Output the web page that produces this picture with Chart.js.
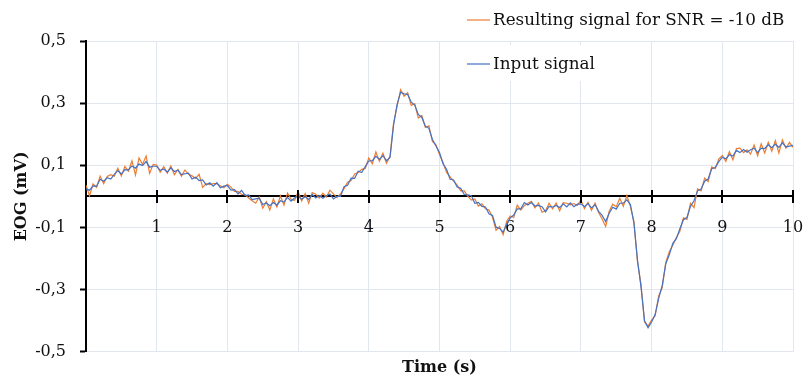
<!DOCTYPE html>
<html>
<head>
<meta charset="utf-8">
<script src="https://cdn.jsdelivr.net/npm/chart.js@4.4.1/dist/chart.umd.min.js"></script>
<style>
  html, body { margin: 0; padding: 0; background: #fff; }
  #wrap { width: 806px; height: 379px; }
</style>
</head>
<body>
<div id="wrap"><canvas id="eogChart" width="806" height="379"></canvas></div>
<script>
// time between two samples of the traces (s)
const sampleStep = 0.05;

// input EOG signal (mV), one value per sample, 0 - 10 s
const inputSignal = [
  0.024, 0.020, 0.034, 0.033, 0.055, 0.049, 0.060, 0.056, 0.071, 0.083,
  0.072, 0.086, 0.085, 0.098, 0.091, 0.104, 0.099, 0.112, 0.094, 0.097,
  0.097, 0.084, 0.088, 0.078, 0.092, 0.080, 0.084, 0.070, 0.073, 0.075,
  0.056, 0.062, 0.051, 0.053, 0.037, 0.044, 0.033, 0.044, 0.028, 0.033,
  0.035, 0.020, 0.022, 0.008, 0.019, 0.003, 0.005, -0.010, -0.008, -0.006,
  -0.026, -0.021, -0.030, -0.020, -0.028, -0.014, -0.018, -0.003, -0.015, -0.005,
  0.001, -0.009, -0.001, -0.010, 0.006, -0.005, 0.003, -0.006, 0.002, 0.008,
  -0.008, 0.000, 0.000, 0.031, 0.036, 0.059, 0.058, 0.081, 0.077, 0.096,
  0.114, 0.115, 0.129, 0.119, 0.131, 0.115, 0.125, 0.229, 0.296, 0.335,
  0.330, 0.328, 0.303, 0.294, 0.264, 0.254, 0.226, 0.219, 0.183, 0.162,
  0.141, 0.105, 0.087, 0.055, 0.053, 0.030, 0.026, 0.006, 0.005, 0.002,
  -0.022, -0.019, -0.032, -0.034, -0.056, -0.061, -0.099, -0.103, -0.115, -0.090,
  -0.069, -0.060, -0.040, -0.040, -0.020, -0.028, -0.020, -0.031, -0.029, -0.033,
  -0.050, -0.032, -0.034, -0.029, -0.036, -0.024, -0.034, -0.021, -0.033, -0.025,
  -0.024, -0.033, -0.023, -0.037, -0.027, -0.048, -0.061, -0.081, -0.054, -0.035,
  -0.041, -0.022, -0.022, -0.011, -0.026, -0.086, -0.204, -0.291, -0.400, -0.423,
  -0.404, -0.380, -0.328, -0.287, -0.217, -0.188, -0.151, -0.136, -0.104, -0.075,
  -0.068, -0.032, -0.014, 0.018, 0.024, 0.049, 0.056, 0.089, 0.093, 0.112,
  0.126, 0.121, 0.134, 0.130, 0.148, 0.141, 0.151, 0.142, 0.150, 0.155,
  0.141, 0.155, 0.154, 0.166, 0.157, 0.168, 0.158, 0.172, 0.159, 0.162,
  0.164
];

// the same signal after adding noise, SNR = -10 dB (mV)
const noisySignal = [
  0.036, 0.002, 0.040, 0.029, 0.065, 0.041, 0.064, 0.070, 0.065, 0.091,
  0.066, 0.096, 0.081, 0.114, 0.069, 0.124, 0.103, 0.130, 0.074, 0.103,
  0.101, 0.078, 0.096, 0.075, 0.098, 0.070, 0.087, 0.065, 0.085, 0.071,
  0.066, 0.058, 0.071, 0.029, 0.041, 0.038, 0.041, 0.041, 0.034, 0.028,
  0.039, 0.030, 0.016, 0.016, 0.007, 0.005, -0.005, -0.014, -0.022, -0.002,
  -0.038, -0.017, -0.044, -0.008, -0.034, 0.002, -0.028, 0.011, -0.009, -0.013,
  0.015, -0.015, 0.009, -0.022, 0.012, 0.007, -0.005, 0.010, -0.002, 0.020,
  0.008, -0.004, 0.008, 0.025, 0.046, 0.051, 0.072, 0.077, 0.087, 0.090,
  0.124, 0.105, 0.143, 0.113, 0.139, 0.107, 0.129, 0.235, 0.290, 0.343,
  0.322, 0.334, 0.293, 0.298, 0.252, 0.260, 0.222, 0.227, 0.177, 0.166,
  0.135, 0.109, 0.077, 0.063, 0.049, 0.036, 0.018, 0.018, 0.001, -0.012,
  -0.008, -0.031, -0.024, -0.040, -0.044, -0.067, -0.109, -0.097, -0.123, -0.080,
  -0.063, -0.068, -0.028, -0.044, -0.030, -0.022, -0.016, -0.037, -0.021, -0.051,
  -0.046, -0.022, -0.040, -0.021, -0.046, -0.020, -0.022, -0.027, -0.023, -0.029,
  -0.012, -0.039, -0.019, -0.045, -0.021, -0.052, -0.073, -0.097, -0.048, -0.025,
  -0.033, -0.006, -0.032, 0.003, -0.032, -0.080, -0.210, -0.283, -0.404, -0.417,
  -0.398, -0.384, -0.320, -0.293, -0.213, -0.178, -0.157, -0.132, -0.112, -0.069,
  -0.074, -0.022, -0.036, 0.024, 0.018, 0.059, 0.048, 0.095, 0.089, 0.120,
  0.132, 0.113, 0.144, 0.118, 0.154, 0.155, 0.141, 0.150, 0.136, 0.165,
  0.131, 0.169, 0.140, 0.174, 0.145, 0.180, 0.140, 0.182, 0.155, 0.174,
  0.158
];

const timeTicks = [0, 1, 2, 3, 4, 5, 6, 7, 8, 9, 10];
const eogTicks = [-0.5, -0.3, -0.1, 0.1, 0.3, 0.5];
const seriesNames = ['Resulting signal for SNR = -10 dB', 'Input signal'];

const fontFamily = "'DejaVu Serif', 'Liberation Serif', serif";
const gridColor = '#e2e6ee';

function toPoints(values) {
  return values.map((v, i) => ({ x: +(i * sampleStep).toFixed(2), y: v }));
}

// tick marks crossing the zero axis + the legend (Excel style, top right)
const eogDecor = {
  id: 'eogDecor',
  afterDatasetsDraw(chart) {
    const { ctx, scales } = chart;
    const y0 = scales.y.getPixelForValue(0);
    ctx.save();
    ctx.strokeStyle = '#000';
    ctx.lineWidth = 2;
    ctx.beginPath();
    timeTicks.forEach(t => {
      if (t === 0) return;
      const px = Math.round(scales.x.getPixelForValue(t));
      ctx.moveTo(px, y0 - 6.5);
      ctx.lineTo(px, y0 + 6.5);
    });
    ctx.stroke();
    ctx.restore();
  },
  afterDraw(chart) {
    const ctx = chart.ctx;
    const rows = [20, 64];
    ctx.save();
    ctx.fillStyle = '#fff';
    ctx.fillRect(462, 45, 163, 36);
    ctx.font = '16.8px ' + fontFamily;
    ctx.textBaseline = 'middle';
    chart.data.datasets.forEach((ds, i) => {
      const y = rows[i];
      ctx.strokeStyle = ds.borderColor;
      ctx.lineWidth = 1.2;
      ctx.beginPath();
      ctx.moveTo(467, y);
      ctx.lineTo(490, y);
      ctx.stroke();
      ctx.fillStyle = '#111';
      ctx.fillText(ds.label, 493, y + 1);
    });
    ctx.restore();
  }
};

new Chart(document.getElementById('eogChart'), {
  type: 'line',
  data: {
    datasets: [{
      label: seriesNames[0],
      data: toPoints(noisySignal),
      borderColor: '#ED7D31',
      borderWidth: 1.2,
      pointRadius: 0,
      order: 2
    }, {
      label: seriesNames[1],
      data: toPoints(inputSignal),
      borderColor: '#4472C4',
      borderWidth: 1.2,
      pointRadius: 0,
      order: 1
    }]
  },
  options: {
    responsive: false,
    animation: false,
    layout: { padding: { top: 41, right: 13, bottom: 0, left: 0 } },
    scales: {
      x: {
        type: 'linear',
        min: 0,
        max: 10,
        position: { y: 0 },
        afterBuildTicks: s => { s.ticks = timeTicks.map(v => ({ value: v })); },
        afterFit: s => { s.paddingLeft = 0; s.paddingRight = 0; },
        grid: { color: gridColor, drawTicks: false },
        border: { display: true, color: '#000', width: 2 },
        ticks: {
          callback: v => (v === 0 ? '' : v),
          font: { family: fontFamily, size: 16 },
          color: '#111',
          padding: 22,
          maxRotation: 0,
          autoSkip: false
        }
      },
      y: {
        min: -0.5,
        max: 0.5,
        afterBuildTicks: s => { s.ticks = eogTicks.map(v => ({ value: v })); },
        afterFit: s => { s.width = 86; },
        grid: { color: gridColor, tickLength: 6, tickColor: '#000', tickWidth: 2 },
        border: { display: true, color: '#000', width: 2 },
        ticks: {
          callback: v => v.toFixed(1).replace('.', ','),
          font: { family: fontFamily, size: 16 },
          color: '#111',
          padding: 14
        },
        title: {
          display: true,
          text: 'EOG (mV)',
          font: { family: fontFamily, size: 16, weight: 'bold' },
          color: '#111',
          padding: { top: 12, bottom: 0 }
        }
      }
    },
    plugins: {
      legend: { display: false },
      tooltip: { enabled: false },
      title: {
        display: true,
        position: 'bottom',
        fullSize: false,
        text: 'Time (s)',
        font: { family: fontFamily, size: 16, weight: 'bold' },
        color: '#111',
        padding: { top: 6, bottom: 2 }
      }
    }
  },
  plugins: [eogDecor]
});
</script>
</body>
</html>
